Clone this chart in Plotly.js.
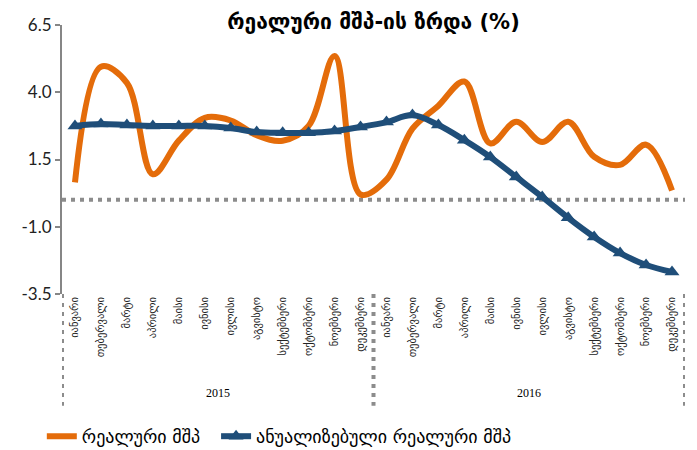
<!DOCTYPE html>
<html>
<head>
<meta charset="utf-8">
<script src="https://cdn.plot.ly/plotly-3.0.1.min.js"></script>
<style>html,body{margin:0;padding:0;background:#fff;}#chart{width:697px;height:450px;}</style>
</head>
<body>
<div id="chart"></div>
<script>
const months = ["იანვარი","თებერვალი","მარტი","აპრილი","მაისი","ივნისი","ივლისი","აგვისტო","სექტემბერი","ოქტომბერი","ნოემბერი","დეკემბერი"];
const years = ["2015", "2016"];
const realGdp2015 = [0.65, 4.95, 4.35, 0.95, 2.2, 3.05, 2.95, 2.4, 2.2, 2.75, 5.35, 0.2];
const realGdp2016 = [0.75, 2.65, 3.5, 4.4, 2.1, 2.9, 2.15, 2.9, 1.6, 1.3, 2.05, 0.35];
const annual2015 = [2.75, 2.82, 2.78, 2.75, 2.75, 2.75, 2.67, 2.52, 2.49, 2.49, 2.56, 2.71];
const annual2016 = [2.89, 3.15, 2.78, 2.22, 1.59, 0.85, 0.11, -0.67, -1.38, -1.98, -2.42, -2.68];
const yTicks = [-3.5, -1.0, 1.5, 4.0, 6.5];
const seriesNames = ["რეალური მშპ", "ანუალიზებული რეალური მშპ"];
const titleText = "რეალური მშპ-ის ზრდა (%)";

const labels = months.concat(months);
const idx = labels.map((_, i) => i);
const realGdp = realGdp2015.concat(realGdp2016);
const annual = annual2015.concat(annual2016);
const geo = "DejaVu Sans, Noto Sans, sans-serif";

const traces = [
  {x: idx, y: realGdp, type: "scatter", mode: "lines", name: seriesNames[0], legend: "legend",
   line: {color: "#E46C0A", width: 6, shape: "spline", smoothing: 1}},
  {x: idx, y: annual, type: "scatter", mode: "lines+markers", name: seriesNames[1], legend: "legend2",
   line: {color: "#1F4E79", width: 6, shape: "spline", smoothing: 1},
   marker: {symbol: "triangle-up", size: 13, color: "#1F4E79"}}
];

const n = labels.length;
const shapes = [
  {type: "line", xref: "x", yref: "y", x0: -0.5, x1: n - 0.5, y0: 0, y1: 0,
   line: {color: "#8C8C8C", width: 4, dash: "4px,5px"}, layer: "below"}
];
[-0.5, 11.5, n - 0.5].forEach(xv => shapes.push(
  {type: "line", xref: "x", yref: "paper", x0: xv, x1: xv, y0: 0, y1: -0.415,
   line: {color: "#8C8C8C", width: 4, dash: "4px,5px"}}
));
const annotations = years.map((yr, k) => ({
  text: yr, xref: "x", yref: "paper", x: 5.5 + 12 * k, y: -0.368, showarrow: false,
  yanchor: "middle", font: {family: "Liberation Serif, serif", size: 12, color: "#000"}
}));

const legendBase = {orientation: "h", xref: "container", yref: "container", xanchor: "left",
  y: 0.03, yanchor: "middle", font: {family: geo, size: 18, color: "#000"}, bgcolor: "rgba(0,0,0,0)"};

const layout = {
  width: 697, height: 450,
  margin: {l: 62, r: 12, t: 25, b: 156},
  paper_bgcolor: "#fff", plot_bgcolor: "#fff",
  title: {text: "<b>" + titleText + "</b>", x: 0.5, xref: "paper", y: 0.952, yref: "container",
          yanchor: "middle", font: {family: geo, size: 21, color: "#000"}},
  xaxis: {range: [-0.5, n - 0.5], tickvals: idx, ticktext: labels, tickangle: -90,
          showgrid: false, zeroline: false, showline: false, ticks: "",
          tickfont: {family: geo, size: 10.5, color: "#222"}},
  yaxis: {range: [-3.5, 6.5], tickvals: yTicks, ticktext: yTicks.map(v => v.toFixed(1)),
          showgrid: false, zeroline: false, showline: true, linecolor: "#868686", linewidth: 2,
          ticks: "outside", ticklen: 5, tickcolor: "#868686", tickwidth: 2,
          tickfont: {family: "Lato, Open Sans, sans-serif", size: 17, color: "#222"}},
  showlegend: true,
  legend: Object.assign({}, legendBase, {x: 0.06}),
  legend2: Object.assign({}, legendBase, {x: 0.31}),
  shapes: shapes, annotations: annotations
};
Plotly.newPlot("chart", traces, layout, {displayModeBar: false, staticPlot: true});
</script>
</body>
</html>
